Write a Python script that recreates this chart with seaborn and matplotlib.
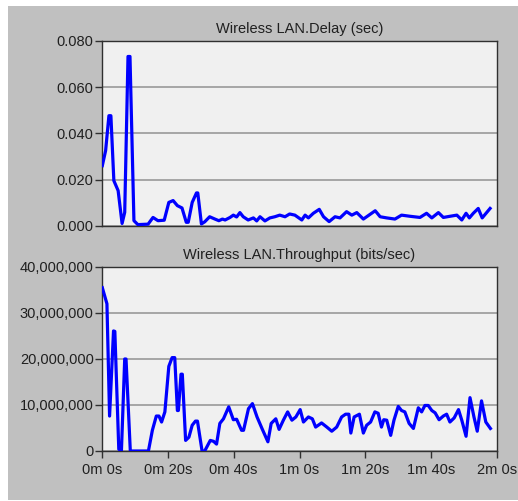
import numpy as np, pandas as pd
import matplotlib; matplotlib.use("Agg")
import matplotlib.pyplot as plt
import matplotlib.ticker as mticker
from matplotlib.patches import Rectangle
import seaborn as sns

# ---- data (time in s) ----
delay_t = [0.1, 1.1, 2.1, 2.7, 3.6, 4.9, 6.1, 6.9, 7.9, 8.5, 9.7, 10.9, 14.0, 15.5, 17.0,
           18.9, 20.3, 21.6, 22.9, 24.3, 25.6, 26.2, 27.4, 28.7, 29.1, 30.2, 31.2, 32.7,
           34.3, 35.5, 36.6, 37.4, 38.9, 39.9, 40.9, 41.9, 42.9, 44.4, 46.0, 47.0, 48.0,
           49.5, 51.0, 52.5, 54.0, 55.6, 57.0, 58.6, 60.7, 61.7, 62.7, 64.2, 66.0, 67.3,
           69.0, 70.8, 72.3, 74.3, 75.9, 77.4, 79.4, 81.1, 83.0, 84.5, 86.5, 89.0, 91.0,
           93.6, 96.6, 98.6, 100.2, 102.2, 103.7, 105.7, 107.8, 109.3, 110.6, 111.6,
           112.8, 114.3, 115.5, 117.9]
delay_v = [0.0261, 0.0326, 0.0477, 0.0477, 0.0196, 0.0153, 0.0011, 0.0059, 0.0733, 0.0733,
           0.0023, 0.0006, 0.0008, 0.0037, 0.0023, 0.0025, 0.0102, 0.0110, 0.0088, 0.0078,
           0.0016, 0.0016, 0.0102, 0.0143, 0.0143, 0.0009, 0.0018, 0.0040, 0.0030, 0.0023,
           0.0030, 0.0026, 0.0037, 0.0047, 0.0039, 0.0058, 0.0040, 0.0026, 0.0035, 0.0022,
           0.0040, 0.0022, 0.0035, 0.0040, 0.0047, 0.0040, 0.0052, 0.0047, 0.0026, 0.0047,
           0.0035, 0.0055, 0.0072, 0.0040, 0.0019, 0.0040, 0.0035, 0.0062, 0.0047, 0.0058,
           0.0030, 0.0047, 0.0066, 0.0040, 0.0035, 0.0030, 0.0047, 0.0042, 0.0037, 0.0055,
           0.0035, 0.0058, 0.0037, 0.0042, 0.0047, 0.0026, 0.0055, 0.0035, 0.0055, 0.0076,
           0.0035, 0.0076]

thr_t = [0.1, 1.5, 2.3, 3.5, 3.9, 5.1, 5.9, 6.9, 7.3, 8.6, 14.1, 15.3, 16.5, 17.3, 18.1,
         19.1, 20.3, 21.3, 22.1, 22.9, 23.2, 24.0, 24.4, 25.4, 26.4, 27.4, 28.4, 29.0,
         30.4, 31.2, 32.9, 33.9, 34.8, 35.8, 36.9, 38.5, 39.9, 40.9, 42.4, 43.0, 44.5,
         45.7, 47.1, 48.6, 50.4, 51.4, 52.8, 53.8, 55.1, 56.4, 57.7, 58.9, 60.2, 61.2,
         62.7, 63.9, 64.9, 66.7, 68.3, 69.8, 71.3, 72.8, 74.0, 75.0, 75.6, 76.6, 78.2,
         79.4, 80.4, 81.6, 82.9, 83.9, 84.9, 85.6, 86.5, 87.7, 88.7, 90.0, 91.0, 92.0,
         93.3, 94.6, 96.1, 97.1, 98.1, 99.1, 100.2, 101.2, 102.4, 103.7, 104.7, 105.7,
         107.0, 108.3, 109.3, 110.6, 111.8, 113.0, 114.0, 115.3, 116.6, 118.0]
thr_m = [35.5, 32.0, 7.6, 26.1, 26.0, 0.4, 0.0, 20.0, 20.0, 0.0, 0.0, 4.5, 7.6, 7.6, 6.3,
         8.5, 18.4, 20.3, 20.3, 8.8, 8.8, 16.7, 16.7, 2.3, 3.0, 5.6, 6.5, 6.5,
         0.0, 0.0, 2.3, 2.1, 1.5, 6.0, 7.0, 9.6, 6.8, 6.9, 4.5, 4.5, 9.2,
         10.3, 7.4, 4.9, 2.0, 6.0, 7.0, 4.7, 6.7, 8.5, 6.7, 7.4, 9.0, 6.3,
         7.4, 7.0, 5.2, 6.1, 5.2, 4.3, 5.2, 7.4, 8.0, 8.0, 3.9, 7.4, 8.0,
         3.9, 5.6, 6.3, 8.5, 8.2, 5.2, 6.8, 6.7, 3.4, 6.7, 9.7, 8.8, 8.5,
         6.0, 4.9, 9.4, 8.5, 9.9, 9.9, 8.8, 8.3, 6.8, 7.6, 8.0, 6.3,
         7.2, 9.0, 6.7, 3.2, 11.6, 7.4, 4.3, 10.9, 6.3, 4.9]   # millions of bits/sec

delay = pd.DataFrame({"t": delay_t, "v": delay_v})
thr = pd.DataFrame({"t": thr_t, "v": np.array(thr_m) * 1e6})

plt.rcParams["font.family"] = ["Liberation Sans", "DejaVu Sans"]
plt.rcParams["font.size"] = 10.5

fig = plt.figure(figsize=(5.18, 5.01), dpi=100, facecolor="white")
fig.patches.append(Rectangle((8/518, 1/501), 1 - 8/518, 494/501, transform=fig.transFigure,
                             facecolor="#c0c0c0", edgecolor="none", zorder=-10))

ax1 = fig.add_axes([102/518, 1 - 226/501, 395/518, 185/501])
ax2 = fig.add_axes([102/518, 1 - 451/501, 395/518, 184/501])

def fmt_time(x, pos):
    x = int(round(x))
    return f"{x // 60}m {x % 60}s"

panels = [(ax1, delay, "Wireless LAN.Delay (sec)", 0.08, 0.02,
           mticker.FormatStrFormatter("%.3f")),
          (ax2, thr, "Wireless LAN.Throughput (bits/sec)", 4e7, 1e7,
           mticker.FuncFormatter(lambda v, p: f"{int(v):,}"))]

for ax, df, title, ymax, ystep, yfmt in panels:
    ax.set_facecolor("#f0f0f0")
    sns.lineplot(data=df, x="t", y="v", ax=ax, color="#0000ff", linewidth=2.3, zorder=3)
    ax.set_xlim(0, 120); ax.set_ylim(0, ymax)
    ax.set_yticks(np.arange(0, ymax + ystep / 2, ystep))
    ax.yaxis.set_major_formatter(yfmt)
    ax.set_xticks(np.arange(0, 121, 20))
    ax.grid(axis="y", color="#a0a0a0", linewidth=1.3, zorder=1)
    ax.grid(axis="x", visible=False)
    for s in ax.spines.values():
        s.set_color("#303030"); s.set_linewidth(1.0)
    ax.tick_params(axis="both", direction="out", length=5, width=1, color="#303030",
                   labelcolor="#202020", labelsize=10.5)
    ax.tick_params(axis="y", pad=1)
    ax.tick_params(axis="x", pad=4)
    ax.set_xlabel(""); ax.set_ylabel("")
    ax.set_title(title, fontsize=10.5, color="#202020", pad=6)

ax1.tick_params(axis="x", bottom=False, labelbottom=False)
ax2.xaxis.set_major_formatter(mticker.FuncFormatter(fmt_time))

plt.savefig("out.png", dpi=100, facecolor="white")
plt.close()
